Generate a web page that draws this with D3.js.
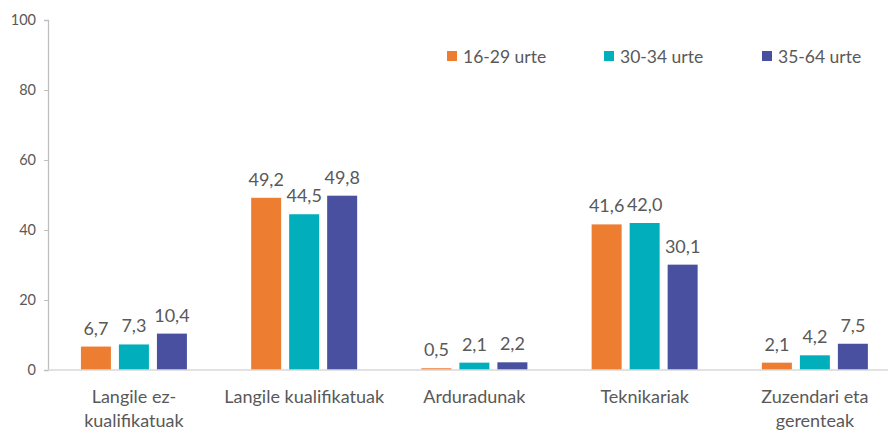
<!DOCTYPE html>
<html><head><meta charset="utf-8">
<script src="https://cdn.jsdelivr.net/npm/d3@7"></script>
<style>body{margin:0;background:#fff}svg{display:block}text{font-family:Lato,"Open Sans",sans-serif;fill:#595959}</style>
</head><body><svg id="c" width="888" height="430"></svg>
<script>
const categories = [["Langile ez-","kualifikatuak"],["Langile kualifikatuak"],["Arduradunak"],["Teknikariak"],["Zuzendari eta","gerenteak"]];
const seriesNames = ["16-29 urte","30-34 urte","35-64 urte"];
const s1629 = [6.7,49.2,0.5,41.6,2.1];
const s3034 = [7.3,44.5,2.1,42.0,4.2];
const s3564 = [10.4,49.8,2.2,30.1,7.5];
const yTicks = [0,20,40,60,80,100];
const colors = ["#ED7D31","#00AFBB","#4A50A0"];
const series = [s1629,s3034,s3564];

const svg = d3.select("#c");
const x0 = d3.scaleBand().domain(d3.range(categories.length)).range([48.8,900]);
const y = d3.scaleLinear().domain([0,100]).range([370,20]);
const barW = 30, gap = 8;
const x1 = i => (i - 1) * (barW + gap) - barW/2;

// y axis
const ya = svg.append("g").attr("transform","translate(48,0)").call(d3.axisLeft(y).tickValues(yTicks).tickSize(4).tickPadding(8));
ya.select(".domain").attr("stroke","#bfbfbf").attr("stroke-width",1.3);
ya.selectAll(".tick line").attr("stroke","#bfbfbf");
ya.selectAll("text").style("font-size","14.5px").style("fill","#595959").style("font-family","Lato");

// bars
const g = svg.append("g");
categories.forEach((c,ci)=>{
  const cx = x0(ci) + x0.bandwidth()/2;
  series.forEach((s,si)=>{
    const v = s[ci];
    const bx = cx + x1(si);
    g.append("rect").attr("x",bx).attr("y",y(v)).attr("width",barW).attr("height",y(0)-y(v)).attr("fill",colors[si]);
    g.append("text").attr("x",bx+barW/2).attr("y",y(v)-12).attr("text-anchor","middle").style("font-size","18px")
      .text(d3.format(".1f")(v).replace(".",","));
  });
  const t = g.append("text").attr("x",cx).attr("y",403).attr("text-anchor","middle").style("font-size","18px");
  c.forEach((line,li)=>t.append("tspan").attr("x",cx).attr("dy",li?24:0).text(line));
});

// baseline
svg.append("line").attr("x1",48).attr("x2",888).attr("y1",y(0)).attr("y2",y(0)).attr("stroke","#d9d9d9").attr("stroke-width",1.5);

// legend
const legX = [447,604,762];
seriesNames.forEach((n,i)=>{
  svg.append("rect").attr("x",legX[i]).attr("y",51).attr("width",10).attr("height",10).attr("fill",colors[i]);
  svg.append("text").attr("x",legX[i]+16).attr("y",62.5).style("font-size","17.5px").text(n);
});
</script></body></html>
